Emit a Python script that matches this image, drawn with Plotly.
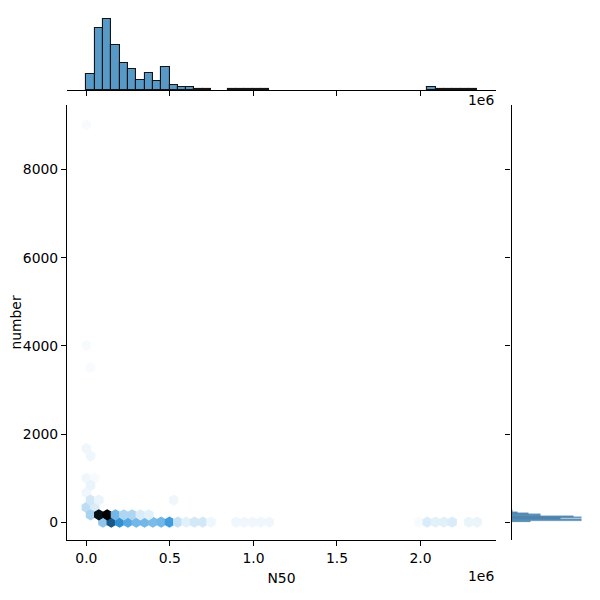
import colorsys
import numpy as np
import plotly.graph_objects as go

# ------------------------------------------------------------------ data
# Hexbin joint distribution: representative (N50, number) groups and their sample counts
hex_n50 = [
    100000, 150000, 200000, 250000, 300000, 350000, 400000, 450000, 500000, 545000,
    600000, 645000, 695000, 745000, 895000, 945000, 995000, 1045000, 1095000,
    1990000, 2040000, 2090000, 2140000, 2190000, 2290000, 2335000,
    25000, 75000, 125000, 175000, 225000, 275000, 325000, 375000,
    5000, 50000,
    25000, 75000, 520000,
    5000, 25000, 5000, 50000, 25000, 5000, 25000, 5000, 5000,
]
hex_number = [
    30, 30, 30, 30, 30, 30, 30, 30, 30, 30,
    30, 30, 30, 30, 30, 30, 30, 30, 30,
    30, 30, 30, 30, 30, 30, 30,
    170, 170, 170, 170, 170, 170, 170, 170,
    340, 340,
    500, 500, 500,
    670, 840, 1000, 1000, 1500, 1670, 3500, 4000, 9010,
]
hex_count = [
    16, 42, 30, 24, 20, 20, 19, 20, 27, 9,
    5, 7, 7, 3, 3, 3, 3, 3, 3,
    2, 6, 5, 5, 6, 4, 4,
    13, 57, 60, 20, 12, 12, 6, 5,
    10, 6,
    7, 4, 3,
    3, 4, 3, 2, 3, 3, 2, 2, 2,
]

# Data extent and hexbin grid (matplotlib-style hexbin, gridsize 47)
N50_MIN, N50_MAX = 0.0, 2339000.0
NUMBER_MIN, NUMBER_MAX = 5.0, 9010.0
GRIDSIZE = 47
MIN_COUNT = 1

# Marginal histogram of N50 (47 equal-width bins between N50_MIN and N50_MAX)
n50_hist_counts = [
    22, 87, 100, 63, 38, 29, 14, 24, 12, 32,
    7, 4, 4, 1, 1, 0, 0, 1, 1, 1,
    1, 1, 0, 0, 0, 0, 0, 0, 0, 0,
    0, 0, 0, 0, 0, 0, 0, 0, 0, 0,
    0, 4, 1, 2, 1, 1, 1,
]

# Marginal histogram of number (300 equal-width bins between NUMBER_MIN and NUMBER_MAX)
NUMBER_BINS = 300
number_hist_bin = [0, 1, 2, 3, 4, 5, 6, 7, 8]
number_hist_counts = [27, 98, 68, 97, 86, 40, 23, 9, 2]

x_tick_values = [0, 500000, 1000000, 1500000, 2000000]
x_tick_labels = ["0.0", "0.5", "1.0", "1.5", "2.0"]
y_tick_values = [0, 2000, 4000, 6000, 8000]
y_tick_labels = ["0", "2000", "4000", "6000", "8000"]

# ------------------------------------------------------------------ hexbin
nx = GRIDSIZE
ny = int(nx / np.sqrt(3))
sx = (N50_MAX - N50_MIN) / nx
sy = (NUMBER_MAX - NUMBER_MIN) / ny

cells = {}
for xv, yv, c in zip(hex_n50, hex_number, hex_count):
    ix = (xv - N50_MIN) / sx
    iy = (yv - NUMBER_MIN) / sy
    ix1, iy1 = int(round(ix)), int(round(iy))
    ix2, iy2 = int(np.floor(ix)), int(np.floor(iy))
    d1 = (ix - ix1) ** 2 + 3.0 * (iy - iy1) ** 2
    d2 = (ix - ix2 - 0.5) ** 2 + 3.0 * (iy - iy2 - 0.5) ** 2
    if d1 < d2:
        key = (1, ix1, iy1)
    else:
        key = (2, ix2, iy2)
    cells[key] = cells.get(key, 0) + c

# seaborn jointplot hex colormap: C0 with lightness from 1 to 0
base = (31 / 255, 119 / 255, 180 / 255)
h, l0, s = colorsys.rgb_to_hls(*base)
stops = np.array([colorsys.hls_to_rgb(h, lv, s) for lv in np.linspace(1, 0, 12)])
stop_pos = np.linspace(0, 1, 12)


def cmap(v):
    v = min(max(v, 0.0), 1.0)
    rgb = [np.interp(v, stop_pos, stops[:, k]) for k in range(3)]
    return "rgb({:.0f},{:.0f},{:.0f})".format(*(255 * np.clip(rgb, 0, 1)))


vmax = max(cells.values())
vmin = MIN_COUNT
hex_dx = sx * np.array([0.5, 0.5, 0.0, -0.5, -0.5, 0.0, 0.5])
hex_dy = (sy / 3.0) * np.array([-0.5, 0.5, 1.0, 0.5, -0.5, -1.0, -0.5])

fig = go.Figure()
for key in sorted(cells.keys()):
    lat, i, j = key
    cnt = cells[key]
    if lat == 1:
        cx, cy = N50_MIN + i * sx, NUMBER_MIN + j * sy
    else:
        cx, cy = N50_MIN + (i + 0.5) * sx, NUMBER_MIN + (j + 0.5) * sy
    col = cmap((cnt - vmin) / (vmax - vmin))
    fig.add_trace(go.Scatter(
        x=cx + hex_dx, y=cy + hex_dy, mode="lines", fill="toself",
        fillcolor=col, line=dict(color=col, width=1.2),
        hoverinfo="skip", showlegend=False, xaxis="x", yaxis="y",
    ))

# ------------------------------------------------------------------ marginals
bar_face = "rgba(31,119,180,0.75)"
edges_x = np.linspace(N50_MIN, N50_MAX, len(n50_hist_counts) + 1)
cx_hist = 0.5 * (edges_x[:-1] + edges_x[1:])
keep = [k for k, c in enumerate(n50_hist_counts) if c > 0]
fig.add_trace(go.Bar(
    x=[cx_hist[k] for k in keep], y=[n50_hist_counts[k] for k in keep],
    width=edges_x[1] - edges_x[0],
    marker=dict(color=bar_face, line=dict(color="rgba(20,20,20,1)", width=1.1)),
    xaxis="x2", yaxis="y2", showlegend=False, hoverinfo="skip",
))

edges_y = np.linspace(NUMBER_MIN, NUMBER_MAX, NUMBER_BINS + 1)
bw_y = edges_y[1] - edges_y[0]
cy_hist = [0.5 * (edges_y[b] + edges_y[b + 1]) for b in number_hist_bin]
fig.add_trace(go.Bar(
    y=cy_hist, x=number_hist_counts, width=bw_y, orientation="h",
    marker=dict(color=bar_face, line=dict(color="rgba(30,60,90,0.5)", width=0.4)),
    xaxis="x3", yaxis="y3", showlegend=False, hoverinfo="skip",
))

# ------------------------------------------------------------------ layout
FONT = "DejaVu Sans"
FS = 13.9
W = H = 600.0
OFF = 8.0  # page body margin of the viewer


def px_x(p):
    return (p - OFF) / W


def px_y(p):
    return 1 - (p - OFF) / H


main_x = [px_x(67), px_x(496)]
main_y = [px_y(540), px_y(105)]
top_y = [px_y(90), px_y(15)]
right_x = [px_x(511.5), px_x(585.5)]

axis_common = dict(showgrid=False, zeroline=False, showline=True, linecolor="black",
                   linewidth=1.1, ticks="outside", ticklen=5, tickwidth=1.1,
                   tickcolor="black", automargin=False,
                   tickfont=dict(family=FONT, size=FS, color="black"))

fig.update_layout(
    width=600, height=600,
    margin=dict(l=0, r=0, t=0, b=0, autoexpand=False),
    paper_bgcolor="white", plot_bgcolor="white",
    font=dict(family=FONT, size=FS, color="black"),
    bargap=0,
    xaxis=dict(domain=main_x, anchor="y", range=[-116000, 2452000],
               tickmode="array", tickvals=x_tick_values, ticktext=x_tick_labels,
               title=dict(text="N50", font=dict(family=FONT, size=FS), standoff=8),
               **axis_common),
    yaxis=dict(domain=main_y, anchor="x", range=[-400, 9460],
               tickmode="array", tickvals=y_tick_values, ticktext=y_tick_labels,
               title=dict(text="number", font=dict(family=FONT, size=FS), standoff=16),
               **axis_common),
    xaxis2=dict(domain=main_x, anchor="y2", matches="x", showticklabels=False,
                tickmode="array", tickvals=x_tick_values, **axis_common),
    yaxis2=dict(domain=top_y, anchor="x2", range=[0, max(n50_hist_counts) * 1.05],
                visible=False),
    xaxis3=dict(domain=right_x, anchor="y3",
                range=[0, max(number_hist_counts) * 1.05], visible=False),
    yaxis3=dict(domain=main_y, anchor="x3", matches="y", showticklabels=False,
                tickmode="array", tickvals=y_tick_values, **axis_common),
    annotations=[
        dict(text="1e6", xref="paper", yref="paper", x=px_x(496), y=px_y(100),
             xanchor="right", yanchor="middle", showarrow=False,
             font=dict(family=FONT, size=FS, color="black")),
        dict(text="1e6", xref="paper", yref="paper", x=px_x(496), y=px_y(576),
             xanchor="right", yanchor="middle", showarrow=False,
             font=dict(family=FONT, size=FS, color="black")),
    ],
)

fig.write_html("out.html")
